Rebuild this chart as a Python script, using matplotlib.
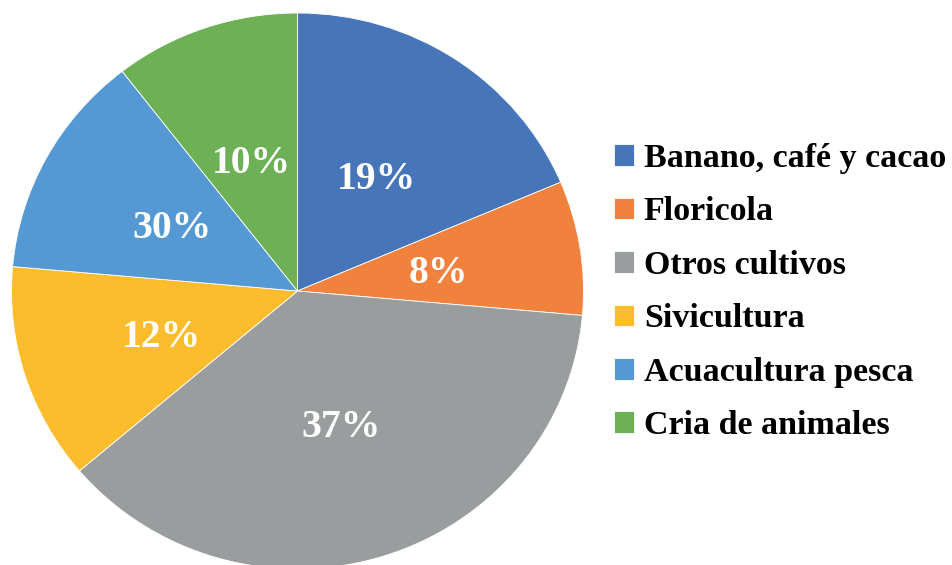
import matplotlib.pyplot as plt

# datos
categorias = ['Banano, café y cacao', 'Floricola', 'Otros cultivos',
              'Sivicultura', 'Acuacultura pesca', 'Cria de animales']
valores = [18.6, 7.8, 37.4, 12.6, 13.1, 10.5]
etiquetas = ['19%', '8%', '37%', '12%', '30%', '10%']
colores = ['#4675BA', '#F0823E', '#9A9D9E', '#FDBC2B', '#5499D3', '#6EB055']

plt.rcParams['font.family'] = ['Liberation Serif', 'DejaVu Serif']

fig = plt.figure(figsize=(9.53, 5.65), dpi=100)
ax = fig.add_axes([11.5 / 953, -4 / 565, 572 / 953, 556 / 565])

wedges, texts, autotexts = ax.pie(valores, colors=colores, startangle=90, counterclock=False,
                                  autopct='%1.0f%%', pctdistance=0.5,
                                  wedgeprops={'edgecolor': 'white', 'linewidth': 0.6})
# las etiquetas del grafico original no coinciden con los angulos
for t, e in zip(autotexts, etiquetas):
    t.set_text(e)
    t.set_color('white')
    t.set_fontsize(28.5)
    t.set_fontweight('bold')
    t.set_va('center_baseline')

ax.set_aspect('auto')
ax.set_xlim(-1, 1)
ax.set_ylim(-1, 1)

fig.legend(wedges, categorias, loc='center left', bbox_to_anchor=(614 / 953, 0.483),
           frameon=False, prop={'size': 24.5, 'weight': 'bold'},
           handlelength=0.6, handleheight=0.6, handletextpad=0.28,
           labelspacing=0.66, borderpad=0, borderaxespad=0)

plt.savefig('out.png')
